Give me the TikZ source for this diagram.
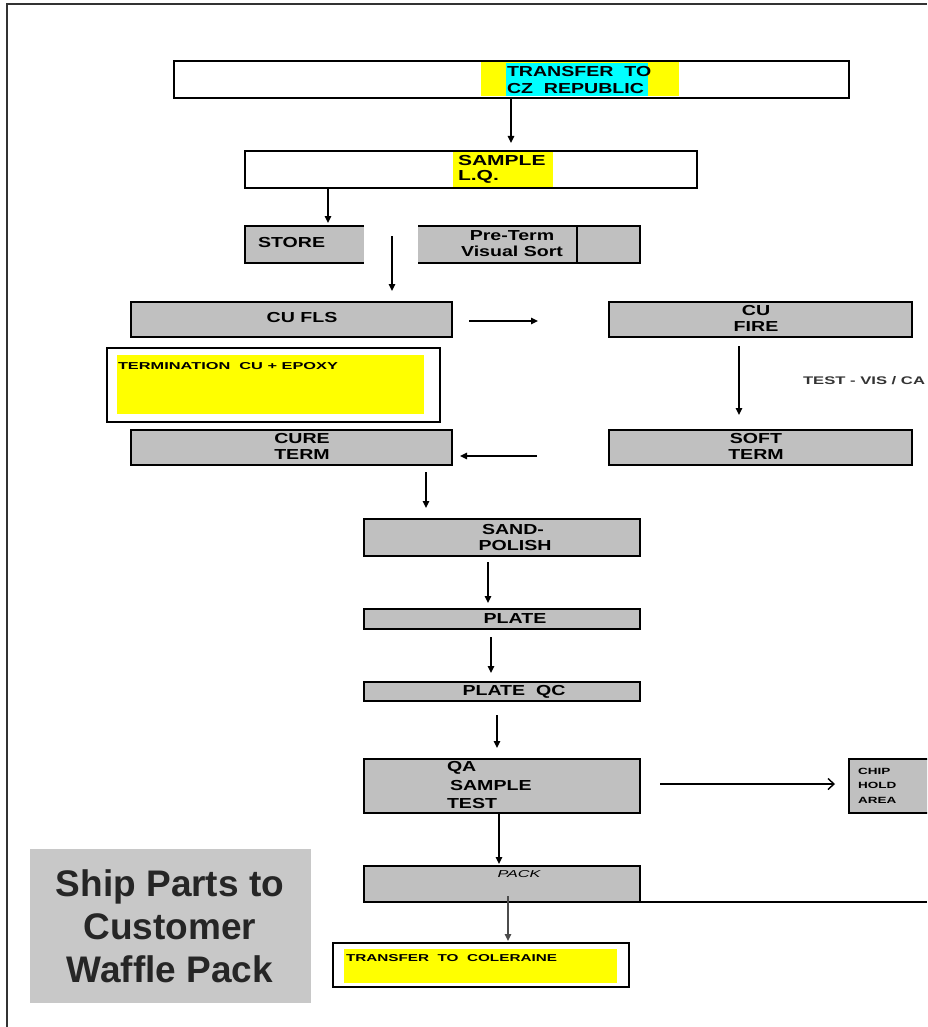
\documentclass[tikz,border=0pt]{standalone}
\usepackage{fontspec}
\setmainfont{Liberation Sans}
\usetikzlibrary{arrows.meta}
\definecolor{boxgray}{HTML}{C0C0C0}
\definecolor{shipgray}{HTML}{C8C8C8}
\definecolor{shiptext}{HTML}{262626}
\definecolor{hlyellow}{HTML}{FFFF00}
\definecolor{hlcyan}{HTML}{00FFFF}
\newcommand\Lb[2][1.35]{\scalebox{#1}[1]{\fontsize{14.5}{16}\selectfont\bfseries #2}}
\newcommand\bx[6]{\node[#6, minimum width={(#4-#2)*1pt}, minimum height={(#5-#3)*1pt}] (#1) at ({(#2+#4)/2},{(#3+#5)/2}) {};}
\tikzset{
  every node/.style={inner sep=0pt, outer sep=0pt},
  procbox/.style={draw=black, fill=boxgray, line width=1.8pt},
  graybox/.style={fill=boxgray},
  whitebox/.style={draw=black, fill=white, line width=1.8pt},
  yellowbox/.style={fill=hlyellow},
  cyanbox/.style={fill=hlcyan},
  shipbox/.style={fill=shipgray},
  arr/.style={line width=1.5pt, draw=black, -{Triangle[length=7pt,width=6.5pt]}},
  openarr/.style={line width=1.5pt, draw=black, -{Straight Barb[length=6pt,width=11pt,line width=1.4pt]}},
  edge/.style={line width=1.8pt, draw=black},
}
\begin{document}
\begin{tikzpicture}[x=1pt,y=-1pt]
\useasboundingbox (0,0) rectangle (927,1027);
\clip (0,0) rectangle (927,1027);
% frame
\coordinate (fbl) at (7,1027);
\coordinate (ftl) at (7,4);
\coordinate (ftr) at (927,4);
\draw[line width=1.6pt, draw=black!80] (fbl) -- (ftl) -- (ftr);

% transfer to CZ
\bx{b1}{174}{61}{849}{98}{whitebox}
\bx{b1y}{481}{62.5}{679}{96.5}{yellowbox}
\bx{b1c}{506}{63.5}{648}{96.5}{cyanbox}
\node[anchor=west] (t1a) at (507,72) {\Lb{TRANSFER~~TO}};
\node[anchor=west] (t1b) at (507,89) {\Lb{CZ~~REPUBLIC}};

% sample L.Q.
\bx{b2}{245}{151}{697}{188}{whitebox}
\bx{b2y}{453}{152}{553}{187}{yellowbox}
\node[anchor=west] (t2a) at (458,161) {\Lb[1.45]{SAMPLE}};
\node[anchor=west] (t2b) at (458,177) {\Lb[1.45]{L.Q.}};

% store
\bx{st}{245}{226}{364}{263}{graybox}
\draw[edge] (st.north east) -- (st.north west) -- (st.south west) -- (st.south east);
\node[anchor=west] (tst) at (258,243) {\Lb{STORE}};

% pre-term visual sort
\bx{pt}{418}{226}{640}{263}{graybox}
\draw[edge] (pt.north west) -- (pt.north east) -- (pt.south east) -- (pt.south west);
\coordinate (ptdt) at (577,226);
\coordinate (ptdb) at (577,263);
\draw[edge] (ptdt) -- (ptdb);
\node (tpta) at (512,236) {\Lb{Pre-Term}};
\node (tptb) at (512,251) {\Lb{Visual Sort}};

% CU FLS
\bx{cf}{131}{302}{452}{337}{procbox}
\node (tcf) at (302,318) {\Lb{CU FLS}};

% CU FIRE
\bx{cfi}{609}{302}{912}{337}{procbox}
\node (tcfia) at (756,311) {\Lb{CU}};
\node (tcfib) at (756,327) {\Lb{FIRE}};

% termination
\bx{tm}{107}{348}{440}{422}{whitebox}
\bx{tmy}{117}{355}{424}{414}{yellowbox}
\node[anchor=west] (ttm) at (118,366) {\resizebox{220pt}{7pt}{\bfseries TERMINATION~~CU + EPOXY}};

% test label
\node[anchor=west, text=black!80] (ttest) at (803,381) {\resizebox{122pt}{8pt}{\bfseries TEST - VIS / CA}};

% CURE TERM
\bx{ct}{131}{430}{452}{465}{procbox}
\node (tcta) at (302,439) {\Lb{CURE}};
\node (tctb) at (302,455) {\Lb{TERM}};

% SOFT TERM
\bx{sft}{609}{430}{912}{465}{procbox}
\node (tsfta) at (756,439) {\Lb{SOFT}};
\node (tsftb) at (756,455) {\Lb{TERM}};

% SAND-POLISH
\bx{sp}{364}{519}{640}{556}{procbox}
\node (tspa) at (513,530) {\Lb{SAND-}};
\node (tspb) at (515,546) {\Lb{POLISH}};

% PLATE
\bx{pl}{364}{609}{640}{629}{procbox}
\node (tpl) at (515,619) {\Lb{PLATE}};

% PLATE QC
\bx{pq}{364}{682}{640}{701}{procbox}
\node (tpq) at (514,692) {\Lb{PLATE~~QC}};

% QA SAMPLE TEST
\bx{qa}{364}{759}{640}{813}{procbox}
\node[anchor=west] (tqaa) at (447,768) {\Lb{QA}};
\node[anchor=west] (tqab) at (450,785) {\Lb{SAMPLE}};
\node[anchor=west] (tqac) at (447,803) {\Lb{TEST}};

% CHIP HOLD AREA
\bx{ch}{849}{759}{940}{813}{procbox}
\node[anchor=west] (tcha) at (858,771) {\scalebox{1.5}[1]{\fontsize{9}{10}\selectfont\bfseries CHIP}};
\node[anchor=west] (tchb) at (858,785) {\scalebox{1.5}[1]{\fontsize{9}{10}\selectfont\bfseries HOLD}};
\node[anchor=west] (tchc) at (858,800) {\scalebox{1.5}[1]{\fontsize{9}{10}\selectfont\bfseries AREA}};

% PACK
\bx{pk}{364}{866}{640}{902}{procbox}
\node (tpk) at (519,874) {\resizebox{43pt}{7pt}{\itshape PACK}};
\coordinate (pkline) at (927,902);
\draw[line width=1.6pt] (pk.south east) -- (pkline);

% transfer to Coleraine
\bx{col}{333}{943}{629}{987}{whitebox}
\bx{coly}{344}{949}{617}{983}{yellowbox}
\node[anchor=west] (tcol) at (346,958) {\resizebox{211pt}{7pt}{\bfseries TRANSFER~~TO~~COLERAINE}};

% ship parts
\bx{ship}{30}{849}{311}{1003}{shipbox}
\node[align=center, text=shiptext, font=\fontsize{37}{43}\selectfont\bfseries] (tship) at (170,926) {Ship Parts to\\Customer\\Waffle Pack};

% arrows (free ends as coordinates)
\coordinate (a1s) at (511,98);  \coordinate (a1e) at (511,143);
\coordinate (a2s) at (328,188); \coordinate (a2e) at (328,223);
\coordinate (a3s) at (392,236); \coordinate (a3e) at (392,291);
\coordinate (a4s) at (469,321); \coordinate (a4e) at (538,321);
\coordinate (a5s) at (739,346); \coordinate (a5e) at (739,415);
\coordinate (a6s) at (537,456); \coordinate (a6e) at (460,456);
\coordinate (a7s) at (426,472); \coordinate (a7e) at (426,508);
\coordinate (a8s) at (488,562); \coordinate (a8e) at (488,603);
\coordinate (a9s) at (491,637); \coordinate (a9e) at (491,673);
\coordinate (a10s) at (497,715); \coordinate (a10e) at (497,748);
\coordinate (a11s) at (660,784); \coordinate (a11e) at (835,784);
\coordinate (a12s) at (499,814); \coordinate (a12e) at (499,864);
\coordinate (a13s) at (508,896); \coordinate (a13e) at (508,941);
\draw[arr] (a1s) -- (a1e);
\draw[arr] (a2s) -- (a2e);
\draw[arr] (a3s) -- (a3e);
\draw[arr] (a4s) -- (a4e);
\draw[arr] (a5s) -- (a5e);
\draw[arr] (a6s) -- (a6e);
\draw[arr] (a7s) -- (a7e);
\draw[arr] (a8s) -- (a8e);
\draw[arr] (a9s) -- (a9e);
\draw[arr] (a10s) -- (a10e);
\draw[openarr] (a11s) -- (a11e);
\draw[arr] (a12s) -- (a12e);
\draw[arr, draw=black!70] (a13s) -- (a13e);
\end{tikzpicture}
\end{document}
